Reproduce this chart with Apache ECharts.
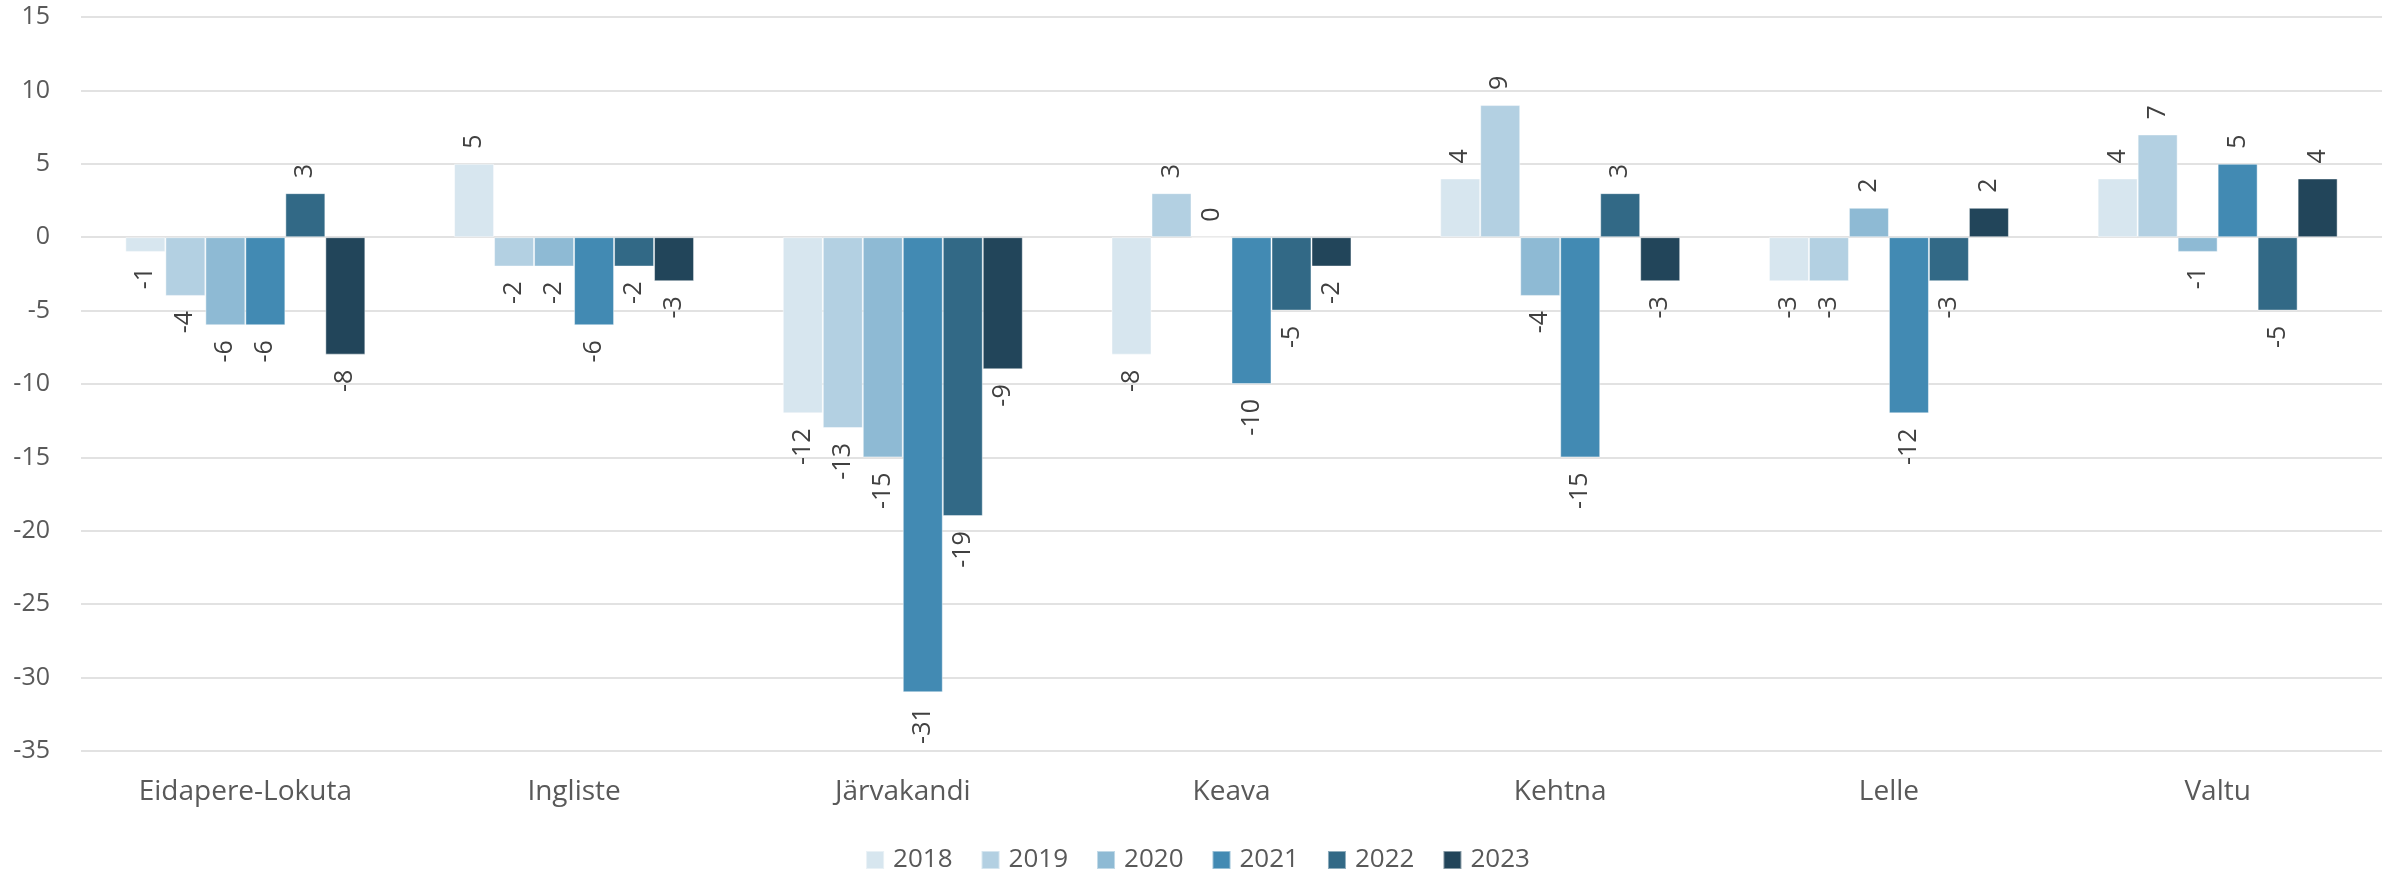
<!DOCTYPE html>
<html>
<head>
<meta charset="utf-8">
<script src="https://cdn.jsdelivr.net/npm/echarts@6/dist/echarts.min.js"></script>
<style>
html,body{margin:0;padding:0;background:#fff;}
#chart{width:2395px;height:872px;}
</style>
</head>
<body>
<div id="chart"></div>
<script>
const categories = ['Eidapere-Lokuta','Ingliste','Järvakandi','Keava','Kehtna','Lelle','Valtu'];
const years = ['2018','2019','2020','2021','2022','2023'];
const v2018 = [-1, 5, -12, -8, 4, -3, 4];
const v2019 = [-4, -2, -13, 3, 9, -3, 7];
const v2020 = [-6, -2, -15, 0, -4, 2, -1];
const v2021 = [-6, -6, -31, -10, -15, -12, 5];
const v2022 = [3, -2, -19, -5, 3, -3, -5];
const v2023 = [-8, -3, -9, -2, -3, 2, 4];
const colors = ['#D7E6EF','#B3D0E2','#8EBAD4','#428AB3','#326986','#22455A'];
const yTicks = {min:-35, max:15, interval:5};

const FONT = '"Open Sans", sans-serif';
const allValues = [v2018, v2019, v2020, v2021, v2022, v2023];

const series = years.map((y, i) => ({
  name: y,
  type: 'bar',
  barGap: '0%',
  barCategoryGap: '27%',
  itemStyle: {color: colors[i], borderColor: 'rgba(255,255,255,0.45)', borderWidth: 1},
  data: allValues[i].map(v => ({
    value: v,
    label: {
      show: true,
      position: v >= 0 ? 'top' : 'bottom',
      rotate: 90,
      align: v >= 0 ? 'left' : 'right',
      verticalAlign: 'middle',
      distance: 15,
      fontSize: 25,
      fontFamily: FONT,
      color: '#404040'
    }
  }))
}));

const chart = echarts.init(document.getElementById('chart'));
chart.setOption({
  animation: false,
  color: colors,
  grid: {left: 81, right: 13, top: 17, bottom: 121, containLabel: false},
  legend: {
    top: 842,
    left: 'center',
    itemWidth: 18,
    itemHeight: 18,
    itemGap: 28,
    icon: 'rect',
    textStyle: {fontSize: 26, fontFamily: FONT, color: '#595959', padding: [0, 0, 0, 4]},
    data: years
  },
  xAxis: {
    type: 'category',
    data: categories,
    axisLine: {show: false},
    axisTick: {show: false},
    axisLabel: {fontSize: 28, fontFamily: FONT, color: '#595959', margin: 27}
  },
  yAxis: {
    type: 'value',
    min: yTicks.min,
    max: yTicks.max,
    interval: yTicks.interval,
    axisLine: {show: false},
    axisTick: {show: false},
    axisLabel: {fontSize: 25, fontFamily: FONT, color: '#595959', margin: 31},
    splitLine: {lineStyle: {color: '#D9D9D9', width: 1.5}}
  },
  series: series
});
</script>
</body>
</html>
